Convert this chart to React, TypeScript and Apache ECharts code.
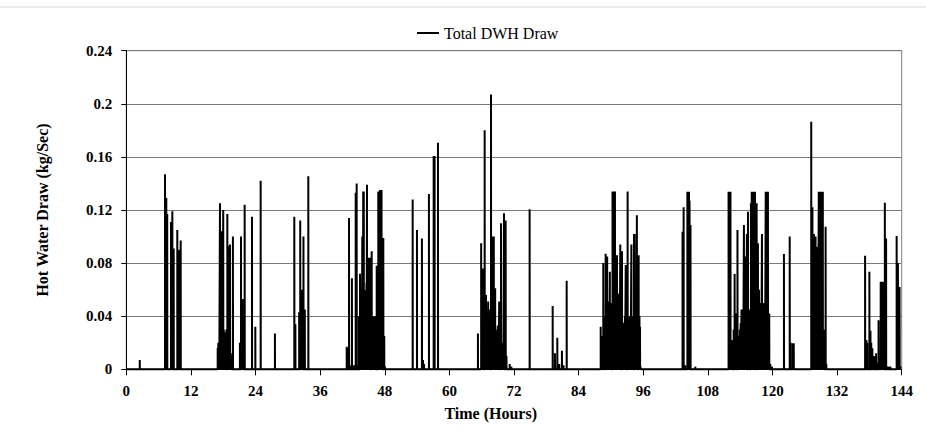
import React, { useEffect, useRef } from "react";
import * as echarts from "echarts";

// [hour, kg/s] peak of each draw event, grouped by day
const day1Draws: [number, number][] = [
  [2.5, 0.007],
  [7.19, 0.147], [7.3, 0.12], [7.43, 0.129], [7.6, 0.117],
  [8.3, 0.111], [8.45, 0.09], [8.55, 0.119], [8.8, 0.091],
  [9.47, 0.105], [9.7, 0.086], [9.85, 0.09], [10.1, 0.097],
  [16.97, 0.016], [17.1, 0.02], [17.25, 0.018], [17.4, 0.125], [17.5, 0.1], [17.65, 0.104], [17.75, 0.03],
  [17.85, 0.028], [18.0, 0.12], [18.1, 0.03], [18.2, 0.025], [18.33, 0.028], [18.45, 0.02], [18.6, 0.03],
  [18.76, 0.117], [18.85, 0.02], [18.95, 0.015], [19.05, 0.093], [19.15, 0.02], [19.26, 0.094], [19.4, 0.012],
  [19.55, 0.01], [19.8, 0.1],
  [21.1, 0.02], [21.3, 0.1], [21.45, 0.04], [21.6, 0.053], [21.75, 0.03], [21.98, 0.124],
  [23.34, 0.115], [23.96, 0.032],
];

const day2Draws: [number, number][] = [
  [24.95, 0.142], [27.6, 0.027],
  [31.2, 0.115], [31.4, 0.034], [32.1, 0.043], [32.3, 0.112], [32.45, 0.05], [32.55, 0.06], [32.7, 0.045],
  [32.9, 0.1], [33.15, 0.045], [33.8, 0.1455],
  [40.93, 0.017], [41.1, 0.016], [41.36, 0.114], [41.6, 0.003], [41.9, 0.0685], [42.3, 0.003], [42.6, 0.133],
  [42.78, 0.14], [42.95, 0.003], [43.2, 0.04], [43.4, 0.072], [43.5, 0.05], [43.6, 0.06], [43.7, 0.055],
  [43.83, 0.1], [43.93, 0.06], [44.0, 0.134], [44.1, 0.134], [44.2, 0.06], [44.3, 0.055], [44.4, 0.059],
  [44.5, 0.05], [44.6, 0.065], [44.7, 0.139], [44.8, 0.06], [44.95, 0.084], [45.05, 0.05], [45.1, 0.07],
  [45.2, 0.084], [45.3, 0.05], [45.4, 0.06], [45.57, 0.089], [45.7, 0.04], [45.8, 0.035], [45.9, 0.04],
  [46.0, 0.03], [46.1, 0.035], [46.2, 0.04], [46.3, 0.02], [46.5, 0.078], [46.6, 0.03], [46.8, 0.134],
  [46.9, 0.04], [47.0, 0.134], [47.1, 0.135], [47.2, 0.05], [47.3, 0.135], [47.4, 0.135], [47.55, 0.04],
  [47.73, 0.099], [47.9, 0.025],
];

const day3Draws: [number, number][] = [
  [48.05, 0.002],
  [53.18, 0.128], [53.98, 0.105], [54.9, 0.0985], [55.1, 0.007], [55.3, 0.004], [56.2, 0.132],
  [57.08, 0.1606], [57.25, 0.1606], [57.88, 0.1706],
  [65.3, 0.027], [65.9, 0.095], [66.05, 0.03], [66.2, 0.076], [66.35, 0.04], [66.55, 0.18], [66.7, 0.05],
  [66.8, 0.056], [66.95, 0.03], [67.05, 0.04], [67.2, 0.051], [67.35, 0.045], [67.5, 0.04], [67.73, 0.207],
  [67.85, 0.05], [67.95, 0.1], [68.1, 0.06], [68.25, 0.1], [68.35, 0.05], [68.5, 0.061], [68.6, 0.03],
  [68.75, 0.025], [68.85, 0.02], [69.0, 0.033], [69.1, 0.02], [69.25, 0.051], [69.4, 0.03], [69.58, 0.11],
  [69.7, 0.02], [69.85, 0.015], [70.0, 0.02], [70.14, 0.1175], [70.3, 0.03], [70.45, 0.112], [70.6, 0.01],
  [71.2, 0.004], [71.5, 0.002],
];

const day4Draws: [number, number][] = [
  [74.9, 0.1205], [79.18, 0.0477], [79.6, 0.012], [80.04, 0.0238], [80.4, 0.004], [80.9, 0.014],
  [81.2, 0.003], [81.78, 0.0667],
  [88.1, 0.032], [88.25, 0.02], [88.4, 0.025], [88.58, 0.08], [88.7, 0.03], [88.85, 0.04], [89.02, 0.087],
  [89.15, 0.05], [89.3, 0.085], [89.45, 0.04], [89.6, 0.051], [89.7, 0.045], [89.8, 0.0735], [89.95, 0.04],
  [90.1, 0.05], [90.3, 0.134], [90.4, 0.134], [90.5, 0.134], [90.6, 0.134], [90.75, 0.134], [90.9, 0.05],
  [91.0, 0.04], [91.12, 0.086], [91.25, 0.03], [91.35, 0.032], [91.5, 0.057], [91.6, 0.035], [91.74, 0.094],
  [91.85, 0.04], [92.05, 0.089], [92.2, 0.035], [92.35, 0.02], [92.45, 0.03], [92.6, 0.04], [92.75, 0.0785],
  [92.9, 0.04], [93.1, 0.134], [93.2, 0.02], [93.35, 0.032], [93.5, 0.04], [93.65, 0.035], [93.8, 0.094],
  [93.95, 0.04], [94.1, 0.02], [94.28, 0.102], [94.4, 0.102], [94.55, 0.05], [94.7, 0.06], [94.82, 0.116],
  [94.95, 0.07], [95.15, 0.086], [95.3, 0.04], [95.4, 0.032], [95.5, 0.002],
];

const day5Draws: [number, number][] = [
  [103.3, 0.1036], [103.5, 0.122], [103.8, 0.003], [104.2, 0.1337], [104.35, 0.1337], [104.5, 0.1337],
  [104.6, 0.127], [104.78, 0.1087], [105.67, 0.002],
  [111.85, 0.1337], [111.95, 0.1337], [112.05, 0.1337], [112.2, 0.1337], [112.35, 0.022], [112.5, 0.022],
  [112.6, 0.015], [112.8, 0.03], [112.97, 0.0717], [113.1, 0.03], [113.2, 0.042], [113.3, 0.035],
  [113.5, 0.105], [113.65, 0.021], [113.8, 0.025], [113.95, 0.03], [114.1, 0.0346], [114.25, 0.045],
  [114.4, 0.035], [114.55, 0.04], [114.7, 0.1087], [114.8, 0.05], [114.9, 0.085], [115.0, 0.038],
  [115.1, 0.05], [115.25, 0.102], [115.45, 0.1187], [115.55, 0.04], [115.65, 0.035], [115.8, 0.045],
  [116.0, 0.125], [116.15, 0.1337], [116.3, 0.1337], [116.45, 0.1337], [116.6, 0.1337], [116.75, 0.1337],
  [116.9, 0.05], [117.06, 0.125], [117.15, 0.04], [117.3, 0.095], [117.4, 0.03], [117.5, 0.06],
  [117.6, 0.035], [117.75, 0.05], [117.9, 0.03], [118.05, 0.1019], [118.15, 0.03], [118.3, 0.05],
  [118.45, 0.03], [118.6, 0.04], [118.75, 0.1337], [118.85, 0.1337], [118.95, 0.1337], [119.05, 0.1337],
  [119.16, 0.1337], [119.3, 0.042], [119.4, 0.042], [119.6, 0.004], [119.9, 0.002],
];

const day6Draws: [number, number][] = [
  [122.13, 0.0868], [123.2, 0.1], [123.4, 0.02], [123.8, 0.0196], [123.95, 0.0196],
  [127.2, 0.1865], [127.3, 0.06], [127.42, 0.122], [127.55, 0.06], [127.7, 0.102], [127.85, 0.06],
  [128.0, 0.1], [128.15, 0.05], [128.3, 0.0924], [128.45, 0.06], [128.6, 0.1337], [128.75, 0.1337],
  [128.9, 0.1337], [129.05, 0.1337], [129.2, 0.1337], [129.35, 0.1337], [129.5, 0.03], [129.6, 0.02],
  [129.87, 0.1074], [130.0, 0.004],
  [137.2, 0.0856], [137.45, 0.022], [137.6, 0.02], [138.0, 0.0735], [138.2, 0.029], [138.35, 0.02],
  [138.55, 0.0158], [138.7, 0.008], [138.9, 0.01], [139.05, 0.006], [139.25, 0.012], [139.45, 0.005],
  [139.7, 0.037], [139.85, 0.01], [140.1, 0.066], [140.2, 0.066], [140.3, 0.066], [140.4, 0.066],
  [140.5, 0.066], [140.65, 0.03], [140.87, 0.1255], [141.1, 0.0986], [141.3, 0.002], [141.6, 0.002],
  [141.9, 0.002], [143.06, 0.1004], [143.2, 0.03], [143.3, 0.08], [143.45, 0.04], [143.6, 0.062],
  [143.75, 0.002],
];

const seriesName = "Total DWH Draw";
const xTitle = "Time (Hours)";
const yTitle = "Hot Water Draw (kg/Sec)";
const drawDuration = 0.02; // hours each draw lasts
const seriesEnd = 143.8;

const FONT = "'Liberation Serif', 'Times New Roman', serif";

function buildSeries(): [number, number][] {
  const all = [...day1Draws, ...day2Draws, ...day3Draws, ...day4Draws, ...day5Draws, ...day6Draws].sort(
    (a, b) => a[0] - b[0]
  );
  const out: [number, number][] = [[0, 0]];
  for (const [t, v] of all) {
    out.push([t, 0], [t, v], [t + drawDuration, v], [t + drawDuration, 0]);
  }
  out.push([seriesEnd, 0]);
  return out;
}

export default function App() {
  const ref = useRef<HTMLDivElement>(null);
  useEffect(() => {
    if (!ref.current) return;
    const chart = echarts.init(ref.current, undefined, { renderer: "svg" });
    chart.setOption({
      animation: false,
      backgroundColor: "#ffffff",
      textStyle: { fontFamily: FONT, color: "#000" },
      grid: {
        left: 126.3,
        right: 24.3,
        top: 50.7,
        bottom: 64.7,
        show: true,
        borderColor: "#808080",
        borderWidth: 1,
      },
      legend: {
        data: [seriesName],
        left: 417,
        top: 25,
        padding: 0,
        icon: "rect",
        itemWidth: 22,
        itemHeight: 2,
        textStyle: { fontFamily: FONT, fontSize: 16, color: "#000" },
      },
      xAxis: {
        type: "value",
        min: 0,
        max: 144,
        interval: 12,
        axisLine: { show: true, onZero: false, lineStyle: { color: "#000", width: 1 } },
        axisTick: { show: true, inside: false, length: 6, lineStyle: { color: "#000" } },
        axisLabel: { fontFamily: FONT, fontSize: 15, fontWeight: "bold", color: "#000", margin: 14 },
        splitLine: { show: false },
      },
      yAxis: {
        type: "value",
        min: 0,
        max: 0.24,
        interval: 0.04,
        name: yTitle,
        nameLocation: "middle",
        nameGap: 76,
        nameTextStyle: { fontFamily: FONT, fontSize: 16, fontWeight: "bold", color: "#000" },
        axisLine: { show: true, lineStyle: { color: "#000", width: 1 } },
        axisTick: { show: true, inside: false, length: 5, lineStyle: { color: "#000" } },
        axisLabel: {
          fontFamily: FONT,
          fontSize: 15,
          fontWeight: "bold",
          color: "#000",
          margin: 14,
          formatter: (v: number) => String(+v.toFixed(2)),
        },
        splitLine: { show: true, lineStyle: { color: "#7a7a7a", width: 1 } },
      },
      graphic: [
        {
          type: "line",
          shape: { x1: 0, y1: 7, x2: 926, y2: 7 },
          style: { stroke: "#d6d6d6", lineWidth: 1 },
          silent: true,
        },
        {
          type: "text",
          x: 490.7,
          y: 413,
          style: {
            text: xTitle,
            fontFamily: FONT,
            fontSize: 16,
            fontWeight: "bold",
            fill: "#000",
            align: "center",
            verticalAlign: "middle",
          },
        },
      ],
      series: [
        {
          name: seriesName,
          type: "line",
          data: buildSeries(),
          showSymbol: false,
          symbol: "none",
          clip: false,
          lineStyle: { color: "#000", width: 2, join: "bevel" },
          itemStyle: { color: "#000" },
          z: 3,
        },
      ],
    });
    return () => chart.dispose();
  }, []);
  return (
    <div
      ref={ref}
      style={{ position: "fixed", left: 0, top: 0, width: 926, height: 434, background: "#fff" }}
    />
  );
}
